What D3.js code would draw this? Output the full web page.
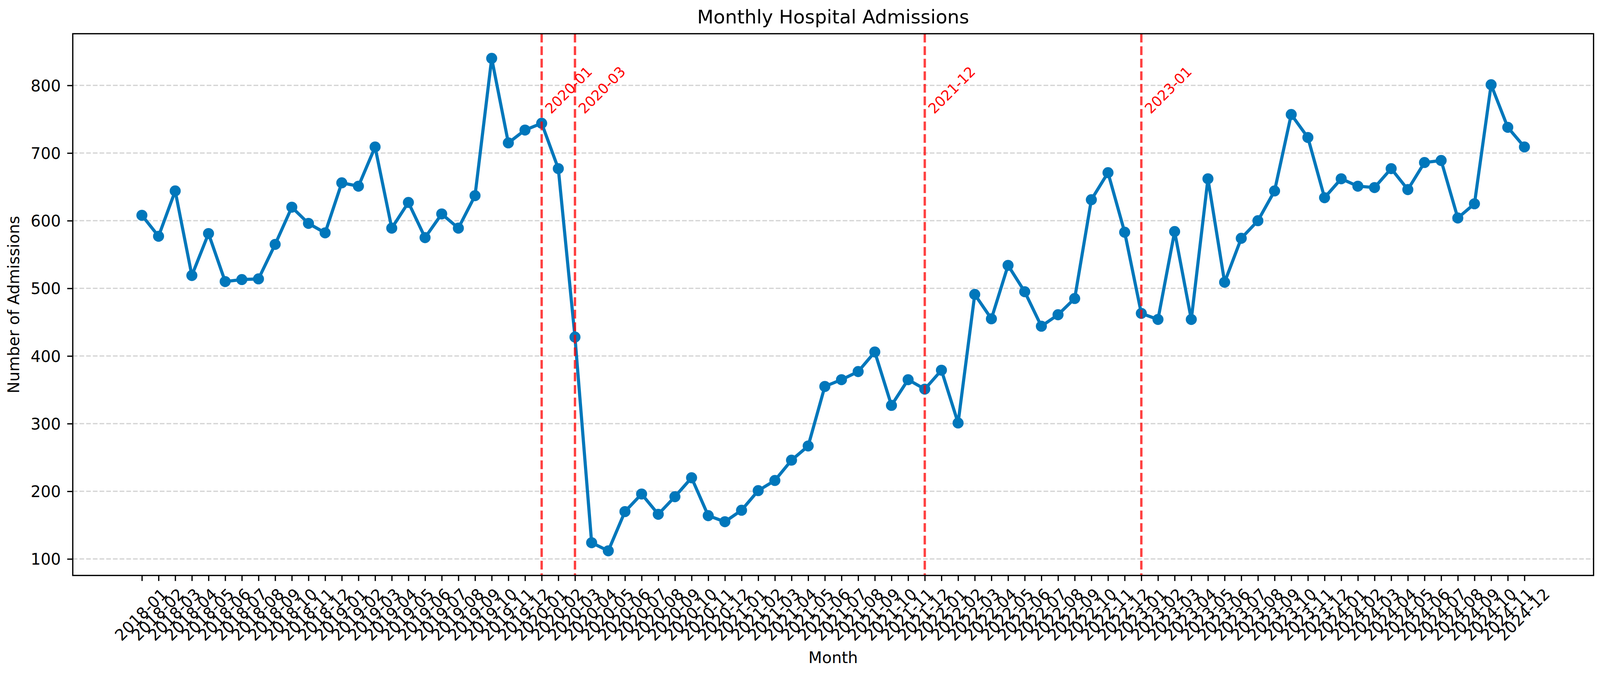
<!DOCTYPE html>
<html lang="en">
<head>
  <meta charset="UTF-8">
  <title>Monthly Hospital Admissions</title>
  <script src="https://d3js.org/d3.v7.min.js"></script>
</head>
<style>
  html, body {
    margin: 0;
    padding: 0;
    overflow: hidden;
    background: #fff;
  }
  svg {
    display: block;
    width: 100vw;
    height: 100vh;
    font-family: "DejaVu Sans", sans-serif;
  }
  .grid {
    stroke: #b0b0b0;
    stroke-opacity: 0.55;
  }
  .series {
    fill: none;
    stroke: #0077bb;
  }
  .marker {
    fill: #0077bb;
    stroke: #0077bb;
  }
  .event {
    stroke: red;
    stroke-opacity: 0.75;
  }
</style>
<body>
<svg id="chart" viewBox="0 0 4222 1767" preserveAspectRatio="xMidYMin meet"></svg>

<script>
  // Month labels on the x axis.
  const months = [
    "2018-01", "2018-02", "2018-03", "2018-04", "2018-05", "2018-06", "2018-07", "2018-08", "2018-09", "2018-10", "2018-11", "2018-12",
    "2019-01", "2019-02", "2019-03", "2019-04", "2019-05", "2019-06", "2019-07", "2019-08", "2019-09", "2019-10", "2019-11", "2019-12",
    "2020-01", "2020-02", "2020-03", "2020-04", "2020-05", "2020-06", "2020-07", "2020-08", "2020-09", "2020-10", "2020-11", "2020-12",
    "2021-01", "2021-02", "2021-03", "2021-04", "2021-05", "2021-06", "2021-07", "2021-08", "2021-09", "2021-10", "2021-11", "2021-12",
    "2022-01", "2022-02", "2022-03", "2022-04", "2022-05", "2022-06", "2022-07", "2022-08", "2022-09", "2022-10", "2022-11", "2022-12",
    "2023-01", "2023-02", "2023-03", "2023-04", "2023-05", "2023-06", "2023-07", "2023-08", "2023-09", "2023-10", "2023-11", "2023-12",
    "2024-01", "2024-02", "2024-03", "2024-04", "2024-05", "2024-06", "2024-07", "2024-08", "2024-09", "2024-10", "2024-11", "2024-12"
  ];

  // Admissions per month.
  const admissions = [
    608, 577, 644, 519, 581, 510, 513, 514, 565, 620, 596, 582,
    656, 651, 709, 589, 627, 575, 610, 589, 637, 840, 715, 734,
    744, 677, 428, 124, 112, 170, 196, 166, 192, 220, 164, 155,
    172, 201, 216, 246, 267, 355, 365, 377, 406, 327, 365, 351,
    379, 301, 491, 455, 534, 495, 444, 461, 485, 631, 671, 583,
    463, 454, 584, 454, 662, 509, 574, 600, 644, 757, 723, 634,
    662, 651, 649, 677, 646, 686, 689, 604, 625, 801, 738, 709
  ];

  // Months marked with a red dashed line.
  const events = ["2020-01", "2020-03", "2021-12", "2023-01"];
  const eventLabelY = 757;

  const yTicks = [100, 200, 300, 400, 500, 600, 700, 800];

  // 300 dpi: one point in pixels.
  const pt = 300 / 72;

  const plotLeft = 192, plotRight = 4205, plotTop = 89, plotBottom = 1519;
  const n = months.length;

  const svg = d3.select("#chart");

  // Same 5% padding as a default line plot.
  const x = d3.scaleLinear()
          .domain([-0.05 * (n - 1), 1.05 * (n - 1)])
          .range([plotLeft, plotRight]);

  const [yMin, yMax] = d3.extent(admissions);
  const yPad = (yMax - yMin) * 0.05;
  const y = d3.scaleLinear()
          .domain([yMin - yPad, yMax + yPad])
          .range([plotBottom, plotTop]);

  // Horizontal grid.
  svg.append("g").selectAll("line")
          .data(yTicks).join("line")
          .attr("class", "grid")
          .attr("x1", plotLeft).attr("x2", plotRight)
          .attr("y1", d => y(d)).attr("y2", d => y(d))
          .attr("stroke-width", 0.8 * pt)
          .attr("stroke-dasharray", `${3.7 * 0.8 * pt},${1.6 * 0.8 * pt}`);

  // The series line and its markers.
  const line = d3.line()
          .x((d, i) => x(i))
          .y(d => y(d));

  svg.append("path")
          .datum(admissions)
          .attr("class", "series")
          .attr("stroke-width", 2 * pt)
          .attr("stroke-linejoin", "round")
          .attr("d", line);

  svg.append("g").selectAll("circle")
          .data(admissions).join("circle")
          .attr("class", "marker")
          .attr("cx", (d, i) => x(i))
          .attr("cy", d => y(d))
          .attr("r", 3 * pt)
          .attr("stroke-width", 1 * pt);

  // Event lines with rotated labels.
  svg.append("g").selectAll("line")
          .data(events).join("line")
          .attr("class", "event")
          .attr("x1", d => x(months.indexOf(d))).attr("x2", d => x(months.indexOf(d)))
          .attr("y1", plotTop).attr("y2", plotBottom)
          .attr("stroke-width", 1.5 * pt)
          .attr("stroke-dasharray", `${3.7 * 1.5 * pt},${1.6 * 1.5 * pt}`);

  svg.append("g").selectAll("text")
          .data(events).join("text")
          .attr("x", d => x(months.indexOf(d)) + 25)
          .attr("y", y(eventLabelY))
          .attr("transform", d => `rotate(-45, ${x(months.indexOf(d)) + 25}, ${y(eventLabelY)})`)
          .attr("font-size", 9 * pt)
          .attr("fill", "red")
          .text(d => d);

  // Axes.
  const xAxis = svg.append("g")
          .attr("transform", `translate(0,${plotBottom})`)
          .call(d3.axisBottom(x)
                  .tickValues(d3.range(n))
                  .tickFormat(i => months[i])
                  .tickSize(3.5 * pt));
  xAxis.attr("font-size", 10 * pt).attr("font-family", "DejaVu Sans");
  xAxis.select(".domain").remove();
  xAxis.selectAll(".tick line").attr("stroke-width", 0.8 * pt);
  xAxis.selectAll(".tick text")
          .attr("text-anchor", "end")
          .attr("x", 69)
          .attr("y", 52)
          .attr("dy", 0)
          .attr("transform", "rotate(-45, 69, 52)");

  const yAxis = svg.append("g")
          .attr("transform", `translate(${plotLeft},0)`)
          .call(d3.axisLeft(y)
                  .tickValues(yTicks)
                  .tickSize(3.5 * pt)
                  .tickPadding(17));
  yAxis.attr("font-size", 10 * pt).attr("font-family", "DejaVu Sans");
  yAxis.select(".domain").remove();
  yAxis.selectAll(".tick line").attr("stroke-width", 0.8 * pt);
  yAxis.selectAll(".tick text").attr("dy", "0.36em");

  // Frame around the plot area.
  svg.append("rect")
          .attr("x", plotLeft).attr("y", plotTop)
          .attr("width", plotRight - plotLeft).attr("height", plotBottom - plotTop)
          .attr("fill", "none")
          .attr("stroke", "black")
          .attr("stroke-width", 0.8 * pt);

  // Title and axis labels.
  svg.append("text")
          .attr("x", (plotLeft + plotRight) / 2).attr("y", 62)
          .attr("text-anchor", "middle")
          .attr("font-size", 12 * pt)
          .text("Monthly Hospital Admissions");

  svg.append("text")
          .attr("x", (plotLeft + plotRight) / 2).attr("y", 1750)
          .attr("text-anchor", "middle")
          .attr("font-size", 10 * pt)
          .text("Month");

  svg.append("text")
          .attr("transform", `translate(51,${(plotTop + plotBottom) / 2}) rotate(-90)`)
          .attr("text-anchor", "middle")
          .attr("font-size", 10 * pt)
          .text("Number of Admissions");
</script>
</body>
</html>
